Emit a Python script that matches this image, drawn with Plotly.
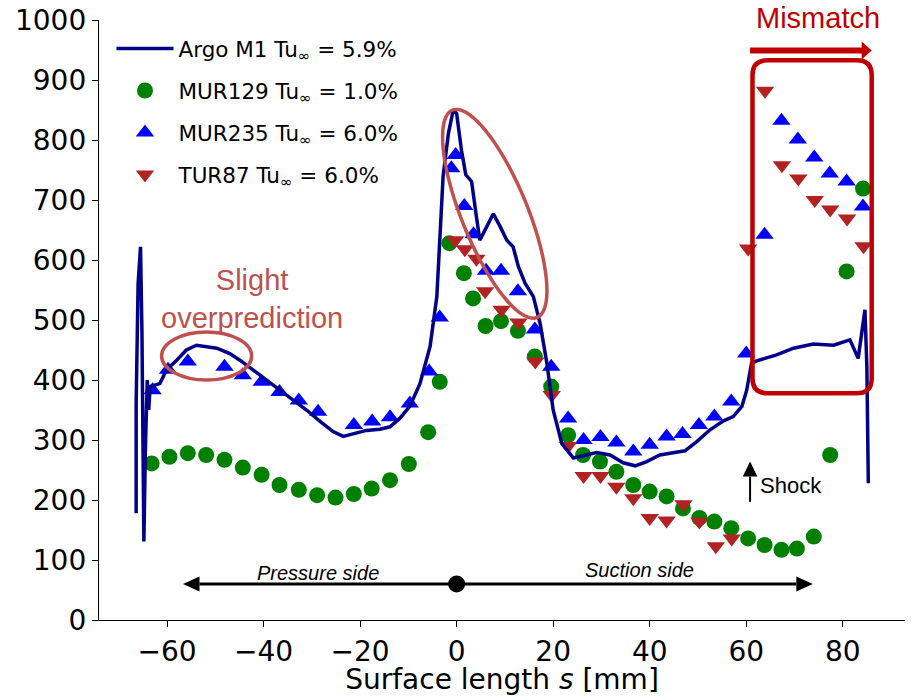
import math
import plotly.graph_objects as go

# ---------------- data ----------------
# Argo M1 simulation, Tu_inf = 5.9 %
argo_s = [-66.4, -66.4, -66.0, -65.5, -65.2, -64.9, -64.8, -64.5, -64.1, -63.8,
          -63.5, -61.5, -60.1, -58.0, -56.0, -53.9, -51.8, -49.7, -47.0, -44.9,
          -42.2, -39.4, -36.6, -33.9, -31.1, -28.3, -25.6, -23.5, -21.4, -18.7,
          -15.9, -13.8, -11.8, -9.7, -7.6, -5.5, -4.1, -3.5, -2.8, -1.7,
          -0.7, 0.0, 1.0, 1.9, 3.1, 4.1, 4.8, 5.5, 7.6, 9.0,
          10.4, 11.7, 12.8, 14.2, 15.9, 17.3, 18.7, 20.0, 21.8, 24.2,
          26.6, 29.0, 31.8, 34.5, 37.0, 39.4, 42.1, 44.9, 47.3, 49.7,
          52.5, 55.3, 57.3, 59.1, 60.1, 61.1, 62.2, 66.3, 69.8, 73.9,
          78.1, 81.5, 83.2, 84.6, 85.0, 85.3]
argo_v = [178, 361, 560, 622, 480, 230, 131, 280, 400, 350,
          389, 394, 417, 433, 450, 458, 456, 453, 444, 433,
          417, 400, 383, 367, 350, 331, 314, 306, 311, 316,
          318, 322, 336, 356, 394, 456, 539, 622, 740, 811,
          850, 844, 783, 742, 731, 672, 633, 644, 677, 656,
          633, 622, 589, 561, 539, 494, 428, 350, 294, 270,
          275, 279, 275, 262, 257, 264, 275, 278, 282, 297,
          317, 332, 339, 356, 383, 428, 432, 442, 453, 460,
          458, 467, 436, 517, 422, 228]

# MUR129 measurement, Tu_inf = 1.0 %
mur129_s = [-63.2, -59.5, -55.7, -51.9, -48.1, -44.3, -40.4, -36.7, -32.7, -28.9,
            -25.1, -21.3, -17.6, -13.8, -9.9, -5.9, -3.5, -1.5, 1.5, 3.4,
            6.0, 9.2, 12.7, 16.2, 19.6, 23.1, 26.2, 29.7, 33.1, 36.6,
            40.0, 43.5, 46.9, 50.3, 53.4, 56.9, 60.4, 63.8, 67.3, 70.5,
            74.0, 77.4, 80.8, 84.2]
mur129_v = [261, 272, 278, 275, 267, 254, 242, 225, 217, 208,
            204, 210, 219, 233, 260, 313, 397, 628, 578, 536,
            490, 498, 482, 439, 389, 308, 275, 264, 247, 225,
            214, 206, 186, 170, 164, 153, 136, 125, 117, 119,
            139, 275, 581, 719]

# MUR235 measurement, Tu_inf = 6.0 %
mur235_s = [-63.0, -59.8, -55.7, -48.1, -44.3, -40.4, -36.7, -32.7, -28.7, -21.3,
            -17.5, -13.8, -9.7, -5.7, -3.5, -1.1, -0.2, 1.6, 3.5, 6.1,
            9.2, 12.7, 16.2, 19.6, 23.1, 26.3, 29.8, 33.1, 36.6, 40.0,
            43.5, 46.8, 50.2, 53.4, 56.9, 60.0, 63.8, 67.3, 70.7, 74.1,
            77.3, 80.8, 84.2]
mur235_v = [383, 417, 431, 422, 408, 397, 380, 366, 347, 325,
            331, 338, 361, 414, 504, 753, 775, 690, 643, 582,
            582, 548, 484, 422, 336, 300, 305, 296, 281, 292,
            306, 310, 325, 339, 364, 444, 642, 832, 801, 771,
            744, 731, 689]

# TUR87 measurement, Tu_inf = 6.0 %
tur87_s = [-0.3, 1.7, 4.1, 5.9, 9.3, 12.8, 16.3, 19.7, 23.1, 26.3,
           29.8, 33.1, 36.6, 40.0, 43.5, 47.0, 50.3, 53.7, 57.0, 60.4,
           63.9, 67.4, 70.8, 74.2, 77.4, 80.9, 84.3]
tur87_v = [633, 618, 602, 548, 517, 496, 431, 375, 290, 240,
           240, 222, 203, 170, 166, 193, 164, 123, 136, 619,
           882, 758, 736, 700, 684, 669, 623]

y_ticks = [0, 100, 200, 300, 400, 500, 600, 700, 800, 900, 1000]
x_ticks = [-60, -40, -20, 0, 20, 40, 60, 80]

# ---------------- geometry helpers ----------------
W, H = 911, 696
ML, MR, MT, MB = 99, 6, 20, 76
XR = [-74.1, 92.9]
YR = [0, 1000]
PW, PH = W - ML - MR, H - MT - MB
KX = PW / (XR[1] - XR[0])   # pixels per mm
KY = PH / (YR[1] - YR[0])   # pixels per unit of y


def px_x(p):
    return p / KX


def px_y(p):
    return p / KY


RED_NOTE = "#C0504D"
DARK_RED = "#C00000"

fig = go.Figure()

# markers first, simulation line drawn on top
fig.add_trace(go.Scatter(
    x=mur129_s, y=mur129_v, mode="markers", name="MUR129 Tu<sub>∞</sub> = 1.0%",
    marker=dict(symbol="circle", size=16, color="green"),
    legendrank=2, legendgroup="g2"))
fig.add_trace(go.Scatter(
    x=mur235_s, y=mur235_v, mode="markers", name="MUR235 Tu<sub>∞</sub> = 6.0%",
    marker=dict(symbol="triangle-up", size=16, color="blue"),
    legendrank=3, legendgroup="g3"))
fig.add_trace(go.Scatter(
    x=tur87_s, y=tur87_v, mode="markers", name="TUR87 Tu<sub>∞</sub> = 6.0%",
    marker=dict(symbol="triangle-down", size=16, color="#B22222"),
    legendrank=4, legendgroup="g4"))
fig.add_trace(go.Scatter(
    x=argo_s, y=argo_v, mode="lines", name="Argo M1 Tu<sub>∞</sub> = 5.9%",
    line=dict(color="#00008B", width=3.5),
    legendrank=1, legendgroup="g1"))

shapes = []

# small ellipse on the pressure side hump
shapes.append(dict(type="circle", xref="x", yref="y",
                   x0=-51.8 - px_x(45), x1=-51.8 + px_x(45),
                   y0=440 - px_y(24), y1=440 + px_y(24),
                   line=dict(color=RED_NOTE, width=3.5), layer="above"))

# tilted ellipse around the leading-edge peak
cx, cy, a_px, b_px, tilt = 7.9, 677, 112, 33, math.radians(67.8)
pts = []
for i in range(73):
    t = 2 * math.pi * i / 72
    dxp = a_px * math.cos(t) * math.cos(tilt) - b_px * math.sin(t) * math.sin(tilt)
    dyp = a_px * math.cos(t) * math.sin(tilt) + b_px * math.sin(t) * math.cos(tilt)
    pts.append((cx + px_x(dxp), cy - px_y(dyp)))
path = "M" + " L".join(f"{x:.3f},{y:.2f}" for x, y in pts) + " Z"
shapes.append(dict(type="path", xref="x", yref="y", path=path,
                   line=dict(color=RED_NOTE, width=3.5), layer="above"))

# rounded box around the aft suction side
x0, x1, y0, y1 = 61.3, 86.0, 378, 933
rx, ry = px_x(15), px_y(15)
box = (f"M{x0 + rx},{y1} L{x1 - rx},{y1} Q{x1},{y1} {x1},{y1 - ry} "
       f"L{x1},{y0 + ry} Q{x1},{y0} {x1 - rx},{y0} L{x0 + rx},{y0} "
       f"Q{x0},{y0} {x0},{y0 + ry} L{x0},{y1 - ry} Q{x0},{y1} {x0 + rx},{y1} Z")
shapes.append(dict(type="path", xref="x", yref="y", path=box,
                   line=dict(color=DARK_RED, width=4.5), layer="above"))

# "Mismatch" arrow
ma_y, ma_x0, ma_tip = 949, 60.8, 86.0
ma_base = ma_tip - px_x(10)
shapes.append(dict(type="line", xref="x", yref="y", x0=ma_x0, x1=ma_base + px_x(1),
                   y0=ma_y, y1=ma_y, line=dict(color=DARK_RED, width=6), layer="above"))
shapes.append(dict(type="path", xref="x", yref="y",
                   path=f"M{ma_base},{ma_y + px_y(9)} L{ma_tip},{ma_y} L{ma_base},{ma_y - px_y(9)} Z",
                   fillcolor=DARK_RED, line=dict(color=DARK_RED, width=0), layer="above"))

# "Shock" arrow
sh_x, sh_y0, sh_tip = 60.8, 197, 264
sh_base = sh_tip - px_y(15)
shapes.append(dict(type="line", xref="x", yref="y", x0=sh_x, x1=sh_x,
                   y0=sh_y0, y1=sh_base, line=dict(color="black", width=2), layer="above"))
shapes.append(dict(type="path", xref="x", yref="y",
                   path=f"M{sh_x - px_x(7.3)},{sh_base} L{sh_x},{sh_tip} L{sh_x + px_x(7.3)},{sh_base} Z",
                   fillcolor="black", line=dict(color="black", width=0), layer="above"))

# pressure side / suction side double arrow
ps_y, ps_left, ps_right = 60, -56.7, 73.8
hl, hh = px_x(16.5), px_y(7.5)
shapes.append(dict(type="line", xref="x", yref="y", x0=ps_left + hl, x1=ps_right - hl,
                   y0=ps_y, y1=ps_y, line=dict(color="black", width=3), layer="above"))
shapes.append(dict(type="path", xref="x", yref="y",
                   path=f"M{ps_left + hl},{ps_y + hh} L{ps_left},{ps_y} L{ps_left + hl},{ps_y - hh} Z",
                   fillcolor="black", line=dict(color="black", width=0), layer="above"))
shapes.append(dict(type="path", xref="x", yref="y",
                   path=f"M{ps_right - hl},{ps_y + hh} L{ps_right},{ps_y} L{ps_right - hl},{ps_y - hh} Z",
                   fillcolor="black", line=dict(color="black", width=0), layer="above"))
shapes.append(dict(type="circle", xref="x", yref="y", xsizemode="pixel", ysizemode="pixel",
                   xanchor=0, yanchor=ps_y, x0=-8.5, x1=8.5, y0=-8.5, y1=8.5,
                   fillcolor="black", line=dict(color="black", width=0), layer="above"))

annotations = [
    dict(x=74.9, y=1 + 2.5 / PH, xref="x", yref="paper", yanchor="middle",
         text="Mismatch", showarrow=False,
         font=dict(family="Liberation Sans", size=29, color=DARK_RED)),
    dict(x=-42.4, y=535, xref="x", yref="y", text="Slight<br>overprediction", showarrow=False,
         font=dict(family="Liberation Sans", size=29, color=RED_NOTE)),
    dict(x=69.3, y=225, xref="x", yref="y", text="Shock", showarrow=False,
         font=dict(family="Liberation Sans", size=22, color="black")),
    dict(x=-28.7, y=78, xref="x", yref="y", text="<i>Pressure side</i>", showarrow=False,
         font=dict(family="Liberation Sans", size=20, color="black")),
    dict(x=37.8, y=84, xref="x", yref="y", text="<i>Suction side</i>", showarrow=False,
         font=dict(family="Liberation Sans", size=20, color="black")),
]

axis_font = dict(family="DejaVu Sans", size=28, color="black")

fig.update_layout(
    width=W, height=H,
    margin=dict(l=ML, r=MR, t=MT, b=MB, autoexpand=False),
    paper_bgcolor="white", plot_bgcolor="white",
    shapes=shapes, annotations=annotations,
    showlegend=True,
    legend=dict(x=0.0155, y=0.9865, xanchor="left", yanchor="top",
                bgcolor="rgba(0,0,0,0)", borderwidth=0,
                font=dict(family="DejaVu Sans", size=21.5, color="black"),
                itemwidth=57, tracegroupgap=11, traceorder="grouped"),
    xaxis=dict(range=XR, tickmode="array", tickvals=x_ticks,
               showgrid=False, zeroline=False, showline=True, linecolor="black",
               linewidth=1.3, ticks="outside", ticklen=6, tickwidth=1.3, tickcolor="black",
               tickfont=axis_font, automargin=False,
               title=dict(text="Surface length <i>s</i> [mm]", font=axis_font, standoff=2)),
    yaxis=dict(range=YR, tickmode="array", tickvals=y_ticks,
               showgrid=False, zeroline=False, showline=True, linecolor="black",
               linewidth=1.3, ticks="outside", ticklen=6, tickwidth=1.3, tickcolor="black",
               tickfont=axis_font, automargin=False),
)

fig.write_html("out.html")
